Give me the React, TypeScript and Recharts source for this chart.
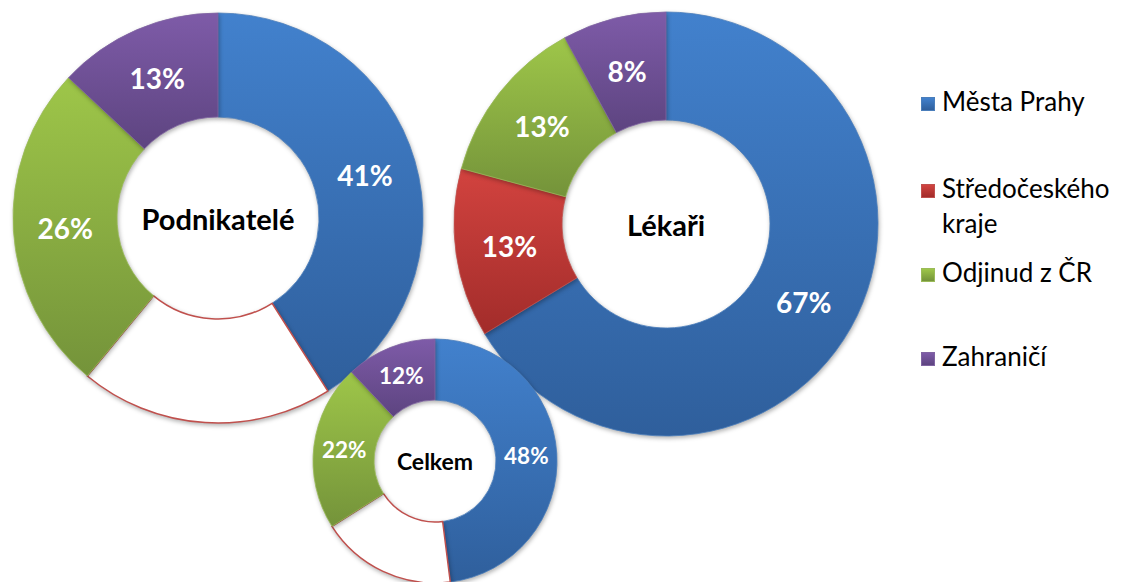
import React from "react";
import { Cell, Pie, PieChart } from "recharts";

document.body.style.margin = "0";

const categories = ["Města Prahy", "Středočeského kraje", "Odjinud z ČR", "Zahraničí"];
const legendLines = [["Města Prahy"], ["Středočeského", "kraje"], ["Odjinud z ČR"], ["Zahraničí"]];

const podnikateleValues = [41, 20, 26, 13];
const podnikateleLabels = ["41%", "", "26%", "13%"];

const lekariValues = [67, 13, 13, 8];
const lekariLabels = ["67%", "13%", "13%", "8%"];

const celkemValues = [48, 18, 22, 12];
const celkemLabels = ["48%", "", "22%", "12%"];

const FONT = "Lato, 'Noto Sans', sans-serif";
const RADIAN = Math.PI / 180;

// top/bottom of each slice gradient
const colors = [
  { id: "blue", top: "#4281cd", bottom: "#2f5f9c", stroke: "#4a7ebb" },
  { id: "red", top: "#d2433f", bottom: "#a22c2a", stroke: "#c0504d" },
  { id: "green", top: "#9ec649", bottom: "#74933a", stroke: "#9bbb59" },
  { id: "purple", top: "#7e5ba8", bottom: "#5d4480", stroke: "#8064a2" },
];

const donuts = [
  { title: "Podnikatelé", values: podnikateleValues, labels: podnikateleLabels, cx: 218, cy: 218, inner: 101, outer: 205, titleSize: 29, labelSize: 28 },
  { title: "Lékaři", values: lekariValues, labels: lekariLabels, cx: 666, cy: 224, inner: 104, outer: 212, titleSize: 29, labelSize: 28 },
  { title: "Celkem", values: celkemValues, labels: celkemLabels, cx: 435, cy: 461, inner: 61, outer: 122, titleSize: 23, labelSize: 22.5 },
];

type Row = { name: string; value: number };
const rows = (values: number[]): Row[] => values.map((v, i) => ({ name: categories[i], value: v }));

function makeLabel(labels: string[], fontSize: number) {
  return (props: any) => {
    const { cx, cy, midAngle, innerRadius, outerRadius, index } = props;
    const text = labels[index];
    if (!text) return null;
    const r = (innerRadius + outerRadius) / 2;
    const x = cx + r * Math.cos(-midAngle * RADIAN);
    const y = cy + r * Math.sin(-midAngle * RADIAN);
    return (
      <text
        key={`l-${index}`}
        x={x}
        y={y}
        fill="#fff"
        textAnchor="middle"
        dominantBaseline="central"
        fontSize={fontSize}
        fontWeight="bold"
        fontFamily={FONT}
      >
        {text}
      </text>
    );
  };
}

// the Středočeského slice is drawn hollow where it has no label
function cellsFor(labels: string[]) {
  return labels.map((_, i) => {
    const hollow = i === 1 && labels[1] === "";
    return (
      <Cell
        key={i}
        fill={hollow ? "#ffffff" : `url(#grad-${colors[i].id})`}
        stroke={hollow ? "#c0504d" : colors[i].stroke}
        strokeWidth={hollow ? 1.5 : 0.8}
      />
    );
  });
}

export default function App() {
  return (
    <div style={{ position: "relative", width: 1124, height: 582, background: "#fff", overflow: "hidden" }}>
      <style>{`.recharts-pie-sector { filter: drop-shadow(1px 2px 2px rgba(0,0,0,0.3)); }`}</style>
      <PieChart width={1124} height={582} margin={{ top: 0, right: 0, bottom: 0, left: 0 }}>
        <defs>
          {colors.map((c) => (
            <linearGradient key={c.id} id={`grad-${c.id}`} x1="0" y1="0" x2="0" y2="1">
              <stop offset="0%" stopColor={c.top} />
              <stop offset="100%" stopColor={c.bottom} />
            </linearGradient>
          ))}
        </defs>
        {donuts.map((d) => (
          <Pie
            key={d.title}
            data={rows(d.values)}
            dataKey="value"
            cx={d.cx}
            cy={d.cy}
            innerRadius={d.inner}
            outerRadius={d.outer}
            startAngle={90}
            endAngle={-270}
            isAnimationActive={false}
            labelLine={false}
            label={makeLabel(d.labels, d.labelSize)}
          >
            {cellsFor(d.labels)}
          </Pie>
        ))}
      </PieChart>
      {donuts.map((d) => (
        <div
          key={d.title}
          style={{
            position: "absolute",
            left: d.cx,
            top: d.cy,
            transform: "translate(-50%, -50%)",
            fontFamily: FONT,
            fontWeight: "bold",
            fontSize: d.titleSize,
            color: "#000",
            whiteSpace: "nowrap",
            lineHeight: 1,
          }}
        >
          {d.title}
        </div>
      ))}
      {legendLines.map((lines, i) => {
        const tops = [89, 176, 260, 344];
        return (
          <div
            key={i}
            style={{
              position: "absolute",
              left: 921,
              top: tops[i],
              fontFamily: FONT,
              fontSize: 26,
              color: "#000",
              display: "flex",
              alignItems: "flex-start",
            }}
          >
            <div
              style={{
                width: 14,
                height: 14,
                marginTop: 8,
                marginRight: 7,
                background: `linear-gradient(${colors[i].top}, ${colors[i].bottom})`,
                border: `1px solid ${colors[i].stroke}`,
                boxSizing: "border-box",
              }}
            />
            <div style={{ lineHeight: "35px", marginTop: -5 }}>
              {lines.map((l) => (
                <div key={l}>{l}</div>
              ))}
            </div>
          </div>
        );
      })}
    </div>
  );
}
